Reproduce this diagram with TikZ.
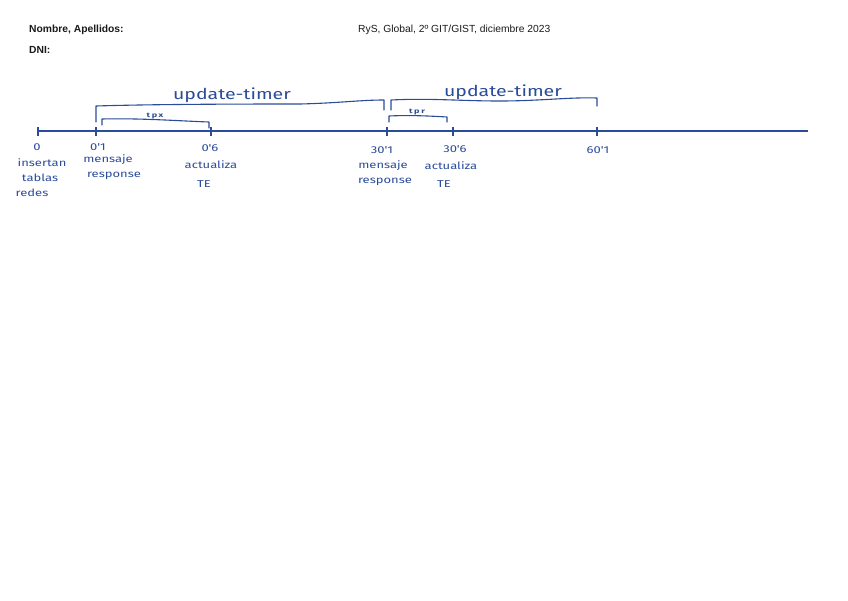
\documentclass[tikz,border=0pt]{standalone}
\usepackage{fontspec}
\setmainfont{Liberation Sans}
\newfontfamily\hand[FakeStretch=1.3]{Fira Sans}
\newfontfamily\handsp[FakeStretch=1.4,LetterSpace=25]{Fira Sans}
\definecolor{ink}{HTML}{2B4C9B}
\definecolor{headtxt}{HTML}{1A1A1A}
\begin{document}
\begin{tikzpicture}[x=1pt,y=-1pt,
  pen/.style={draw=ink,line width=1.1pt,line cap=round,line join=round},
  axis/.style={draw=ink,line width=1.4pt},
  tickmark/.style={draw=ink,line width=1.1pt},
  hw/.style={text=ink,font=\hand\fontsize{10}{10}\selectfont,inner sep=0pt},
  hwbig/.style={text=ink,font=\hand\fontsize{15}{15}\selectfont,inner sep=0pt},
  hwsmall/.style={text=ink,font=\handsp\fontsize{6.5}{6.5}\selectfont\bfseries,inner sep=0pt},
  head/.style={text=headtxt,font=\fontsize{10.3}{10.3}\selectfont,inner sep=0pt,anchor=west}]
\useasboundingbox (0,0) rectangle (848,600);
\fill[white] (0,0) rectangle (848,600);
% header
\node[head,font=\fontsize{10.3}{10.3}\selectfont\bfseries] (nom) at (29,30) {Nombre, Apellidos:};
\node[head,font=\fontsize{10.3}{10.3}\selectfont\bfseries] (dni) at (29,50) {DNI:};
\node[head] (rys) at (358,30) {RyS, Global, 2º GIT/GIST, diciembre 2023};
% timeline
\coordinate (a0) at (37,131);
\coordinate (aend) at (808,131);
\draw[axis] (a0) -- (aend);
\foreach \n/\x in {t0/38,t1/96,t6/211,t31/387,t36/453,t61/597}{
  \coordinate (\n) at (\x,131);
  \draw[tickmark] ([yshift=-5]\n) -- ([yshift=4]\n);
}
% tick labels
\node[hw] (l0) at (37,147) {0};
\node[hw] (l0a) at (42,163) {insertan};
\node[hw] (l0b) at (40,178) {tablas};
\node[hw] (l0c) at (32,193) {redes};
\node[hw] (l1) at (98,147) {0'1};
\node[hw] (l1a) at (108,160) {mensaje};
\node[hw] (l1b) at (114,176) {response};
\node[hw] (l6) at (210,148) {0'6};
\node[hw] (l6a) at (211,165) {actualiza};
\node[hw] (l6b) at (204,184) {TE};
\node[hw] (l31) at (382,150) {30'1};
\node[hw] (l31a) at (383,166) {mensaje};
\node[hw] (l31b) at (385,182) {response};
\node[hw] (l36) at (455,149) {30'6};
\node[hw] (l36a) at (451,166) {actualiza};
\node[hw] (l36b) at (444,184) {TE};
\node[hw] (l61) at (598,150) {60'1};
% big braces
\coordinate (b1s) at (96,122);
\coordinate (b1e) at (384,110);
\draw[pen] (b1s) -- (96,106) .. controls (160,104) and (260,104) .. (300,104)
  .. controls (340,103) and (360,100) .. (384,100) -- (b1e);
\node[hwbig] (u1) at (232,95) {update-timer};
\coordinate (b2s) at (391,110);
\coordinate (b2e) at (597,106);
\draw[pen] (b2s) -- (391,100) .. controls (430,98) and (460,101) .. (500,101)
  .. controls (540,101) and (570,97) .. (597,98) -- (b2e);
\node[hwbig] (u2) at (503,92) {update-timer};
% small braces
\coordinate (s1s) at (102,125);
\coordinate (s1e) at (209,128);
\draw[pen] (s1s) -- (102,119) .. controls (140,118) and (180,121) .. (209,122) -- (s1e);
\node[hwsmall] (p1) at (155,116) {tpx};
\coordinate (s2s) at (389,122);
\coordinate (s2e) at (447,122);
\draw[pen] (s2s) -- (389,116) .. controls (410,115) and (430,116) .. (447,117) -- (s2e);
\node[hwsmall] (p2) at (417,112) {tpr};
\end{tikzpicture}
\end{document}
